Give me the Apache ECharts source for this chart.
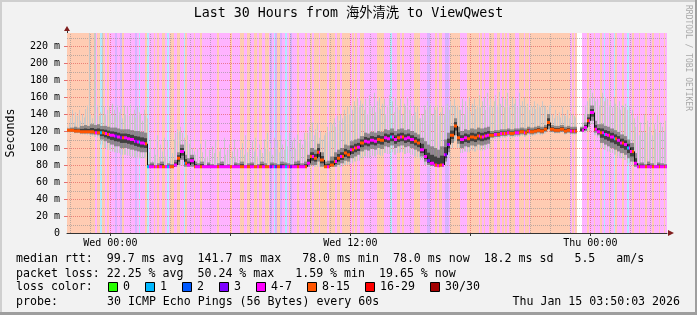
<!DOCTYPE html>
<html><head><meta charset="utf-8">
<script src="https://cdn.jsdelivr.net/npm/echarts@6/dist/echarts.min.js"></script>
<style>html,body{margin:0;padding:0;background:#f2f2f2}#c{width:697px;height:315px}</style>
</head><body><div id="c"></div>
<script>
// ---------------- data ----------------
const chartTitle = 'Last 30 Hours from 海外清洗 to ViewQwest';
const watermark = 'RRDTOOL / TOBI OETIKER';
const yAxisTitle = 'Seconds';
const spanMinutes = 1800;          // 30 hours, start Tue 21:50
const bgStepMinutes = 5;
const dataStepMinutes = 10;
const xTickValues = [130, 850, 1570];
const xTickLabels = ['Wed 00:00', 'Wed 12:00', 'Thu 00:00'];
const xMajorValues = [130, 490, 850, 1210, 1570];
const xMinorValues = [10,70,190,250,310,370,430,550,610,670,730,790,910,970,1030,1090,1150,1270,1330,1390,1450,1510,1630,1690,1750];
const yTickValues = [0,20,40,60,80,100,120,140,160,180,200,220];
const yTickLabels = ['0','20 m','40 m','60 m','80 m','100 m','120 m','140 m','160 m','180 m','200 m','220 m'];
const yMinorValues = [10,30,50,70,90,110,130,150,170,190,210,230];
const yMax = 235.3;
const lossLabels = ['0','1','2','3','4-7','8-15','16-29','30/30'];
const lossColors = ['#26ff00','#00b8ff','#0059ff','#7e00ff','#ff00ff','#ff5500','#ff0000','#a10000'];
// loss class per 5-minute step (index into lossLabels), x = no data
const lossCodes = [
  '5555555555555','555545515545','4444344354444444341','444514445454',
  '45541455445544154','444544454444','4444454444444544444','554455445545544554',
  '34135534414534','445444454454','5554555545555455455555','4545445544',
  '4444445555444414445545444444555544443344','4545544334555555444455555554545445',
  '554455454545555445554554','555555555555555555555555','4545','xxx',
  '4445444544','4541445441','5444544144','5444544454','4454445445','4'
].join('');
// highest ping per 5-minute step (ms)
const smokeTop = [
  125,128,135,145,130,142,138,145,132,140,136,146,150,
  236,140,135,236,236,150,138,142,236,148,140,145,
  148,140,152,145,138,150,142,146,135,150,140,148,138,152,140,145,136,148,142,
  140,132,145,138,135,
  95,110,85,100,92,115,88,104,96,112,90,108,85,100,94,
  110,118,122,120,125,118,112,108,115,105,110,100,96,
  92,100,86,105,95,88,110,90,98,84,102,94,108,88,96,100,85,112,92,98,
  104,88,96,110,90,100,86,98,106,92,115,95,100,88,108,96,112,90,104,98,
  94,110,100,118,96,106,92,112,100,108,95,115,104,98,110,102,118,96,108,112,
  100,116,106,110,104,118,
  110,118,125,120,130,115,122,128,112,120,110,115,118,125,120,130,128,135,125,138,
  132,140,135,145,138,148,140,150,145,155,148,160,150,156,152,
  145,158,140,162,150,148,165,142,155,160,146,152,158,140,150,162,148,155,142,160,
  150,145,158,140,152,148,160,145,155,138,150,142,148,135,
  135,140,150,145,155,148,152,140,148,145,150,138,142,148,140,150,152,145,155,150,158,148,150,145,
  145,158,140,155,148,160,142,152,158,146,150,162,148,155,160,145,165,150,158,148,
  155,162,150,166,152,160,148,158,165,150,145,160,152,158,148,165,150,155,160,148,
  152,145,150,148,155,146,152,150,148,155,150,148,145,150,152,
  140,135,145,138,142,136,148,140,138,145,135,142,140,138,136,
  null,null,null,
  130,140,150,155,160,170,165,160,155,158,150,160,165,155,160,
  158,150,155,148,160,152,148,155,145,150,148,152,145,148,140,145,135,
  125,138,115,130,120,140,118,132,125,135,115,128,122,140,118,130,125,120,132
];
// per 10-minute step (ms)
const median = [
  121,121,120,120,119,119,119,119,118,118,
  118,117,116,115,114,113,112,112,111,110,108,107,106,105,
  78,78,78,78,78,78,78,78,
  80,88,96,82,80,85,78,
  78,78,78,78,78,78,78,78,78,78,78,78,78,78,78,78,78,78,78,78,78,78,78,78,78,78,78,78,78,78,78,78,78,
  82,90,88,95,86,78,78,80,84,88,90,94,92,98,100,101,106,
  108,107,109,108,110,109,112,111,113,110,112,113,111,112,110,108,106,
  98,90,85,82,80,79,80,92,104,115,126,112,
  110,112,111,113,112,114,113,114,115,
  115,116,116,117,117,118,117,118,118,119,118,120,119,120,121,120,122,
  130,
  122,121,121,122,120,121,120,120,
  null,
  121,124,132,141.7,122,119,
  118,116,115,113,111,109,106,104,100,96,82,
  78,78,78,78,78,78,78,78,78
];
const smokeMin = [
  118,118,117,117,116,116,115,114,113,112,
  104,100,98,96,95,94,92,92,91,90,89,88,88,88,
  78,78,78,78,78,78,78,78,
  78,78,79,78,78,78,78,
  78,78,78,78,78,78,78,78,78,78,78,78,78,78,78,78,78,78,78,78,78,78,78,78,78,78,78,78,78,78,78,78,78,
  78,78,78,78,78,78,78,78,78,78,78,80,80,82,84,85,88,
  90,89,91,90,92,91,94,93,95,92,94,95,93,94,92,90,88,
  86,80,78,78,78,78,78,80,90,100,108,100,
  94,96,95,97,96,98,97,98,99,
  110,111,111,112,112,113,112,113,113,114,113,115,114,115,116,115,117,
  120,
  118,117,117,118,116,117,116,116,
  null,
  118,118,120,128,115,112,
  100,98,96,94,92,90,88,86,82,80,78,
  78,78,78,78,78,78,78,78,78
];
const smokeLo = [
  119,119,118,118,117,117,117,116,116,115,
  110,108,106,104,102,102,100,100,99,98,97,96,95,95,
  78,78,78,78,78,78,78,78,
  78,80,86,78,78,78,78,
  78,78,78,78,78,78,78,78,78,78,78,78,78,78,78,78,78,78,78,78,78,78,78,78,78,78,78,78,78,78,78,78,78,
  78,80,80,84,78,78,78,78,78,80,82,85,84,88,90,92,96,
  98,97,99,98,100,99,102,101,103,100,102,103,101,102,100,98,96,
  90,84,80,79,78,78,78,84,95,106,115,105,
  100,102,101,103,102,104,103,104,105,
  112,113,113,114,114,115,114,115,115,116,115,117,116,117,118,117,119,
  122,
  119,118,118,119,117,118,117,117,
  null,
  119,120,125,132,118,115,
  106,104,102,100,98,96,94,92,88,84,78,
  78,78,78,78,78,78,78,78,78
];
const smokeHi = [
  123,124,125,124,126,127,126,128,127,128,
  126,126,125,124,124,123,122,122,122,121,120,120,119,118,
  81,83,80,82,84,80,82,81,
  86,95,104,92,88,92,84,
  82,84,80,83,81,80,82,84,80,81,80,83,82,84,80,82,83,80,81,84,82,80,83,82,81,84,83,82,81,84,85,82,84,
  92,100,98,105,95,84,85,90,95,98,100,104,103,108,110,111,114,
  118,117,119,118,120,119,122,121,123,120,122,123,121,122,120,118,116,
  112,108,104,102,100,98,102,110,118,126,135,125,
  120,122,121,123,122,124,123,124,125,
  120,121,121,122,122,123,122,123,123,124,123,125,124,125,126,125,127,
  140,
  127,126,126,127,125,126,125,125,
  null,
  125,130,140,150,132,128,
  128,126,125,123,121,119,116,114,110,106,94,
  82,83,81,84,82,80,83,82,81
];
const statRows = [
  'median rtt:  99.7 ms avg  141.7 ms max   78.0 ms min  78.0 ms now  18.2 ms sd   5.5   am/s',
  'packet loss: 22.25 % avg  50.24 % max   1.59 % min  19.65 % now'
];
const lossRowLabel = 'loss color:';
const probeLabel = 'probe:';
const probeText = '30 ICMP Echo Pings (56 Bytes) every 60s';
const stampText = 'Thu Jan 15 03:50:03 2026';

// ---------------- build ----------------
const MONO = '"DejaVu Sans Mono", "Noto Sans CJK SC", monospace';
const bandAlpha = 0.3;
function pale(hex) {
  const n = parseInt(hex.slice(1), 16);
  const c = [(n >> 16) & 255, (n >> 8) & 255, n & 255].map(v => Math.round(255 - (255 - v) * bandAlpha));
  return 'rgb(' + c.join(',') + ')';
}
const paleColors = lossColors.map(pale);

const bandData = [];
const topData = [];
const medianData = [];
for (let j = 0; j < lossCodes.length; j++) {
  const ch = lossCodes[j];
  const code = ch === 'x' ? -1 : Number(ch);
  const i = j >> 1;
  bandData.push([j * bgStepMinutes, code]);
  topData.push([j * bgStepMinutes, smokeTop[j], smokeMin[i]]);
  medianData.push([j * bgStepMinutes, median[i], code, j > 0 ? median[(j - 1) >> 1] : null]);
}
const smokeData = median.map((m, i) => [i * dataStepMinutes, m, smokeLo[i], smokeHi[i]]);
const gridData = [];
xMinorValues.forEach(v => gridData.push([v, 0, 0]));
xMajorValues.forEach(v => gridData.push([v, 0, 1]));
yMinorValues.forEach(v => gridData.push([v, 1, 0]));
yTickValues.filter(v => v > 0).forEach(v => gridData.push([v, 1, 1]));

const empty = { type: 'group', children: [] };
function colSpan(api, t, step) {
  return [Math.round(api.coord([t, 0])[0]), Math.round(api.coord([t + step, 0])[0])];
}
function renderBand(params, api) {
  const code = api.value(1);
  if (!(code >= 0)) return empty;
  const t = api.value(0);
  const [x0, x1] = colSpan(api, t, bgStepMinutes);
  const yT = api.coord([t, yMax])[1], yB = api.coord([t, 0])[1];
  return { type: 'rect', shape: { x: x0, y: yT, width: x1 - x0, height: yB - yT }, style: { fill: paleColors[code] } };
}
function renderGrid(params, api) {
  const v = api.value(0), kind = api.value(1), major = api.value(2);
  const stroke = major ? 'rgba(222,79,79,0.6)' : 'rgba(143,143,143,0.6)';
  if (kind === 0) {
    const a = api.coord([v, 0]), b = api.coord([v, yMax]);
    const x = Math.round(a[0]) + 0.5;
    return { type: 'line', shape: { x1: x, y1: a[1], x2: x, y2: b[1] }, style: { stroke, lineWidth: 1, lineDash: [1, 1] } };
  }
  const a = api.coord([0, v]), b = api.coord([spanMinutes, v]);
  const y = Math.round(a[1]) + 0.5;
  return { type: 'line', shape: { x1: a[0], y1: y, x2: b[0], y2: y }, style: { stroke, lineWidth: 1, lineDash: [1, 1] } };
}
function renderTop(params, api) {
  const t = api.value(0), top = api.value(1), mn = api.value(2);
  if (isNaN(top) || isNaN(mn)) return empty;
  const [x0] = colSpan(api, t, bgStepMinutes);
  const y0 = api.coord([t, Math.min(top, yMax)])[1], y1 = api.coord([t, mn])[1];
  return { type: 'rect', shape: { x: x0, y: y0, width: 1, height: Math.max(1, y1 - y0) }, style: { fill: '#c8c8c8' } };
}
function renderSmoke(params, api) {
  const t = api.value(0), md = api.value(1), lo = api.value(2), hi = api.value(3);
  if (isNaN(md) || isNaN(lo)) return empty;
  const [xa, xb] = colSpan(api, t, dataStepMinutes);
  const rect = (v0, v1, fill) => {
    const y0 = api.coord([t, v1])[1], y1 = api.coord([t, v0])[1];
    return { type: 'rect', shape: { x: xa, y: y0, width: xb - xa, height: Math.max(1, y1 - y0) }, style: { fill } };
  };
  return { type: 'group', children: [
    rect(lo, hi, 'rgba(110,110,110,0.7)'),
    rect((lo + md) / 2, (hi + md) / 2, '#404040')
  ] };
}
function renderMedian(params, api) {
  const t = api.value(0), md = api.value(1), code = api.value(2), prev = api.value(3);
  if (isNaN(md) || !(code >= 0)) return empty;
  const [x0, x1] = colSpan(api, t, bgStepMinutes);
  const y = api.coord([t, md])[1];
  const children = [];
  if (!isNaN(prev) && Math.abs(prev - md) > 0.5) {
    const p = api.coord([t, prev])[1];
    children.push({ type: 'line', shape: { x1: x0 + 0.5, y1: p, x2: x0 + 0.5, y2: y }, style: { stroke: '#111', lineWidth: 1 } });
  }
  children.push({ type: 'rect', shape: { x: x0, y: y - 1.5, width: Math.max(1, x1 - x0), height: 3 }, style: { fill: lossColors[code] } });
  return { type: 'group', children };
}

// legend / text graphics
const graphics = [];
graphics.push({ type: 'rect', shape: { x: 0, y: 0, width: 697, height: 2 }, style: { fill: '#cfcfcf' }, silent: true });
graphics.push({ type: 'rect', shape: { x: 0, y: 0, width: 2, height: 315 }, style: { fill: '#cfcfcf' }, silent: true });
graphics.push({ type: 'rect', shape: { x: 695, y: 0, width: 2, height: 315 }, style: { fill: '#9e9e9e' }, silent: true });
graphics.push({ type: 'rect', shape: { x: 0, y: 312, width: 697, height: 3 }, style: { fill: '#9e9e9e' }, silent: true });
graphics.push({ type: 'polygon', shape: { points: [[64, 31], [70, 31], [67, 26]] }, style: { fill: '#801f1f' }, z: 100 });
graphics.push({ type: 'polygon', shape: { points: [[668, 230], [668, 236], [674, 233]] }, style: { fill: '#801f1f' }, z: 100 });
graphics.push({ type: 'line', shape: { x1: 67.5, y1: 31, x2: 67.5, y2: 33 }, style: { stroke: '#333', lineWidth: 1 }, z: 100 });
const legendFont = '11.6px ' + MONO;
const rowY = [259, 273.5, 287, 301.5];
const txt = (x, y, s, extra) => Object.assign({ type: 'text', x, y, style: Object.assign({ text: s, font: legendFont, fill: '#000', textVerticalAlign: 'middle', verticalAlign: 'middle' }, extra || {}) });
statRows.forEach((s, k) => graphics.push(txt(16, rowY[k], s)));
graphics.push(txt(16, rowY[2], lossRowLabel));
let bx = 108;
lossLabels.forEach((lab, k) => {
  graphics.push({ type: 'rect', shape: { x: bx + 0.5, y: 282.5, width: 9, height: 9 }, style: { fill: lossColors[k], stroke: '#000', lineWidth: 1 } });
  graphics.push(txt(bx + 15, rowY[2], lab));
  bx = bx + 15 + lab.length * 7 + 15;
});
graphics.push(txt(16, rowY[3], probeLabel));
graphics.push(txt(107, rowY[3], probeText));
graphics.push(txt(680, rowY[3], stampText, { textAlign: 'right', align: 'right' }));
graphics.push({ type: 'text', x: 688, y: 5, rotation: -Math.PI / 2, style: { text: watermark, font: '8px ' + MONO, fill: '#a8a8a8', textVerticalAlign: 'middle', verticalAlign: 'middle', textAlign: 'left' } });

const chart = echarts.init(document.getElementById('c'), null, { renderer: 'canvas', devicePixelRatio: 1 });
chart.setOption({
  animation: false,
  backgroundColor: '#f2f2f2',
  title: { text: chartTitle, left: 'center', top: 7, padding: 0, textStyle: { fontFamily: MONO, fontSize: 13.3, fontWeight: 'normal', color: '#000' } },
  grid: { left: 67, top: 33, width: 600, height: 200, show: true, backgroundColor: '#ffffff', borderWidth: 0, containLabel: false, outerBoundsMode: 'none' },
  xAxis: {
    type: 'value', min: 0, max: spanMinutes,
    axisLine: { show: true, lineStyle: { color: '#333', width: 1 } },
    axisTick: { show: true, customValues: xMajorValues, length: 3, lineStyle: { color: '#333' } },
    axisLabel: { customValues: xTickValues, formatter: v => xTickLabels[xTickValues.indexOf(v)] || '', fontFamily: MONO, fontSize: 10, color: '#000', margin: 5 },
    splitLine: { show: false }
  },
  yAxis: {
    type: 'value', min: 0, max: yMax,
    name: yAxisTitle, nameLocation: 'middle', nameRotate: 90, nameGap: 50, nameMoveOverlap: false,
    nameTextStyle: { fontFamily: MONO, fontSize: 11.6, color: '#000' },
    axisLine: { show: true, lineStyle: { color: '#333', width: 1 } },
    axisTick: { show: true, customValues: yTickValues.filter(v => v > 0), length: 3, lineStyle: { color: 'rgba(222,79,79,0.8)' } },
    axisLabel: { customValues: yTickValues, formatter: v => yTickLabels[yTickValues.indexOf(v)] || '', fontFamily: MONO, fontSize: 10, color: '#000', margin: 7 },
    splitLine: { show: false }
  },
  graphic: graphics,
  series: [
    { type: 'custom', name: 'loss', renderItem: renderBand, data: bandData, encode: { x: 0, y: 1 }, z: 1, silent: true },
    { type: 'custom', name: 'grid', renderItem: renderGrid, data: gridData, encode: { x: 0, y: 1 }, z: 2, silent: true },
    { type: 'custom', name: 'smokeTop', renderItem: renderTop, data: topData, encode: { x: 0, y: 1 }, z: 3, silent: true },
    { type: 'custom', name: 'smoke', renderItem: renderSmoke, data: smokeData, encode: { x: 0, y: 1 }, z: 4, silent: true },
    { type: 'custom', name: 'median', renderItem: renderMedian, data: medianData, encode: { x: 0, y: 1 }, z: 5, silent: true }
  ]
});
</script></body></html>
